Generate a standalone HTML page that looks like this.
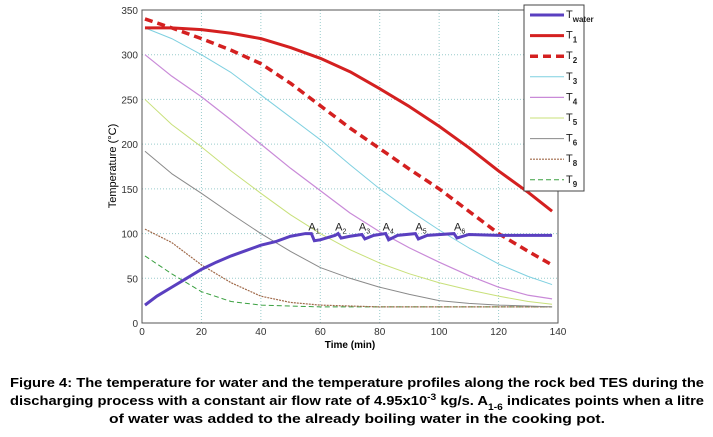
<!DOCTYPE html>
<html><head><meta charset="utf-8"><style>
body{margin:0;background:#fff;}
svg{display:block;font-family:"Liberation Sans",Arial,sans-serif;}
</style></head><body>
<svg id="chart" width="713" height="437" xmlns="http://www.w3.org/2000/svg">
<g id="grid"></g>
<g id="series"></g>
<rect x="142" y="10" width="416" height="313" fill="none" stroke="#555" stroke-width="1"/>
<g id="axes"></g>
<text x="350" y="348" font-size="10" font-weight="bold" text-anchor="middle">Time (min)</text>
<text transform="translate(116,166) rotate(-90)" font-size="11" text-anchor="middle">Temperature (°C)</text>
<g id="legend"></g>
<g font-weight="bold" font-size="13" font-family="'Liberation Sans Narrow','Liberation Sans',sans-serif">
<text x="357" y="387" text-anchor="middle" textLength="694" lengthAdjust="spacingAndGlyphs">Figure 4: The temperature for water and the temperature profiles along the rock bed TES during the</text>
<text x="357" y="405" text-anchor="middle" textLength="694" lengthAdjust="spacingAndGlyphs">discharging process with a constant air flow rate of 4.95x10<tspan baseline-shift="super" font-size="9">-3</tspan> kg/s. A<tspan baseline-shift="sub" font-size="9">1-6</tspan> indicates points when a litre</text>
<text x="357" y="423" text-anchor="middle" textLength="496" lengthAdjust="spacingAndGlyphs">of water was added to the already boiling water in the cooking pot.</text>
</g>
</svg>
<script>
const xTicks=[0,20,40,60,80,100,120,140];
const yTicks=[0,50,100,150,200,250,300,350];
const tX=[1,10,20,30,40,50,60,70,80,90,100,110,120,130,138];
const t1=[330,330,328,324,318,308,296,281,262,242,220,196,170,146,125];
const t2=[340,330,318,305,290,268,243,218,195,172,150,125,100,80,65];
const t3=[330,318,300,280,255,230,205,177,150,126,104,84,66,52,43];
const t4=[300,276,253,227,200,173,148,123,102,84,68,53,40,31,27];
const t5=[250,222,197,170,145,121,100,82,67,55,45,37,30,24,21];
const t6=[192,167,145,122,100,80,62,50,40,32,25,22,20,19,18];
const t8=[105,90,65,45,30,23,20,19,18,18,18,18,18,18,18];
const t9=[75,55,35,24,20,19,18,18,18,18,18,18,18,18,18];
const wX=[1,5,10,15,20,25,30,35,40,45,50,55,57,58,60,65,66,67,70,74,75,78,82,83,86,92,93,96,105,106,110,120,130,138];
const wY=[20,30,40,50,60,68,75,81,87,91,97,100,100,92,93,98,100,95,97,99,94,98,100,93,98,100,94,98,100,95,99,98,98,98];
const markX=[56,65,73,81,92,105];
const markY=[100,100,100,100,100,100];
const markLbl=["A1","A2","A3","A4","A5","A6"];
const NS="http://www.w3.org/2000/svg";
const X0=142,X1=558,Y0=323,Y1=10;
const sx=v=>X0+(v-0)/(140-0)*(X1-X0);
const sy=v=>Y0-(v-0)/(350-0)*(Y0-Y1);
function mk(t,a,p){const e=document.createElementNS(NS,t);for(const k in a)e.setAttribute(k,a[k]);p.appendChild(e);return e;}
const grid=document.getElementById('grid'),axes=document.getElementById('axes'),ser=document.getElementById('series'),leg=document.getElementById('legend');
xTicks.forEach(v=>{
 if(v>0&&v<140){const l=mk('line',{x1:sx(v),x2:sx(v),y1:Y1,y2:Y0,stroke:'#9cc',"stroke-dasharray":'1,2'},grid);
 
 }
 const t=mk('text',{x:sx(v),y:Y0+12,"font-size":10,"text-anchor":'middle',fill:'#333'},axes);t.textContent=v;
 
 
});
yTicks.forEach(v=>{
 if(v>0&&v<350){const l=mk('line',{x1:X0,x2:X1,y1:sy(v),y2:sy(v),stroke:'#9cc',"stroke-dasharray":'1,2'},grid);
 
 }
 const t=mk('text',{x:X0-4,y:sy(v)+4,"font-size":10,"text-anchor":'end',fill:'#333'},axes);t.textContent=v;
 
 
});
const styles=[
 {n:'T',s:'1',d:t1,c:'#d42020',w:3,da:''},
 {n:'T',s:'2',d:t2,c:'#d42020',w:3.5,da:'8,5'},
 {n:'T',s:'3',d:t3,c:'#7fd0e0',w:1,da:''},
 {n:'T',s:'4',d:t4,c:'#c98ad8',w:1.2,da:''},
 {n:'T',s:'5',d:t5,c:'#c8e07a',w:1,da:''},
 {n:'T',s:'6',d:t6,c:'#8a8a8a',w:1,da:''},
 {n:'T',s:'8',d:t8,c:'#a06a4a',w:1.2,da:'2,1'},
 {n:'T',s:'9',d:t9,c:'#3aa040',w:1,da:'5,3'}];
styles.slice().reverse().forEach(st=>{
 const p=mk('polyline',{points:tX.map((x,i)=>sx(x)+','+sy(st.d[i])).join(' '),fill:'none',stroke:st.c,"stroke-width":st.w,"stroke-dasharray":st.da,"stroke-linejoin":'round'},ser);
 
 
});
const wl=mk('polyline',{points:wX.map((x,i)=>sx(x)+','+sy(wY[i])).join(' '),fill:'none',stroke:'#5a3fc0',"stroke-width":3},ser);


markX.forEach((x,i)=>{
 const t=mk('text',{x:sx(x),y:sy(markY[i])-3,"font-size":11,fill:'#222'},ser);
 t.textContent='A';
 const s=mk('tspan',{"font-size":7,dy:3},t);s.textContent=markLbl[i].slice(1);
 
 
});
const lb=mk('rect',{x:524,y:5,width:60,height:186,fill:'#fff',stroke:'#444'},leg);


const entries=[{s:'water',c:'#5a3fc0',w:3,da:''}].concat(styles);
entries.forEach((st,i)=>{
 const y=15+i*20.6;
 const g=mk('g',{},leg);
 
 
 mk('line',{x1:530,x2:564,y1:y,y2:y,stroke:st.c,"stroke-width":st.w,"stroke-dasharray":st.da},g);
 const t=mk('text',{x:566,y:y+3,"font-size":11,fill:'#222'},g);t.textContent='T';
 const s=mk('tspan',{"font-size":8,"font-weight":'bold',dy:4},t);s.textContent=st.s;
});
</script>
</body></html>
